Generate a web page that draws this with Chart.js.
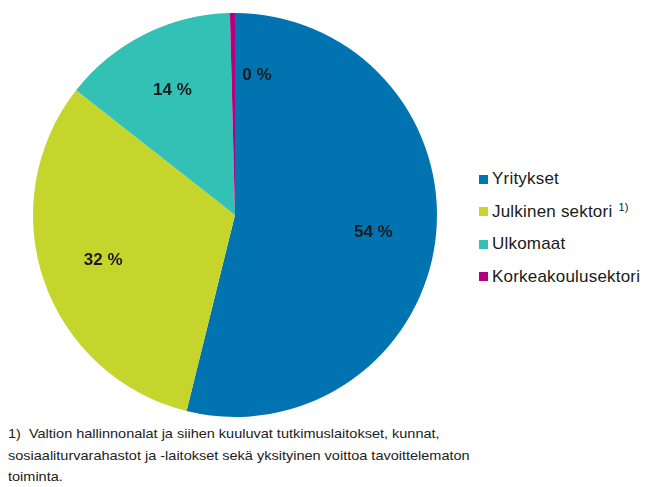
<!DOCTYPE html>
<html lang="fi">
<head>
<meta charset="utf-8">
<script src="https://cdn.jsdelivr.net/npm/chart.js@4.4.1/dist/chart.umd.min.js"></script>
<style>
    body { margin: 0; background: #fff; font-family: "Liberation Sans", Arial, sans-serif; }
    #wrap { position: relative; width: 659px; height: 487px; }
    #chartBox { position: absolute; left: 0; top: 0; width: 470px; height: 420px; }
    #legend { position: absolute; left: 479px; top: 167px; font-size: 17px; color: #1a1a1a; letter-spacing: 0.2px; }
    #legend .item { height: 32.5px; display: flex; align-items: center; position: relative; top: -4px; }
    #legend .box { width: 9px; height: 9px; margin-right: 4px; }
    #legend sup { font-size: 11px; margin-left: 6px; position: relative; top: -5px; }
    #note { position: absolute; left: 8px; top: 423px; font-size: 13px; line-height: 21.5px; color: #222;
            transform: scaleX(1.115); transform-origin: left top; white-space: nowrap; }
</style>
</head>
<body>
<div id="wrap">
    <div id="chartBox"><canvas id="piirakka"></canvas></div>
    <div id="legend"></div>
    <div id="note">1)&nbsp; Valtion hallinnonalat ja siihen kuuluvat tutkimuslaitokset, kunnat,<br>sosiaaliturvarahastot ja -laitokset sekä yksityinen voittoa tavoittelematon<br>toiminta.</div>
</div>
<script>
// Rahoituslähteet (%), luettu kuvasta
const sektorit = ['Yritykset', 'Julkinen sektori', 'Ulkomaat', 'Korkeakoulusektori'];
const osuudet = [53.8, 31.7, 14.0, 0.4];
const varit = ['#0073b0', '#c5d52c', '#33c1b6', '#b5007e'];
const alaviitteet = ['', '1)', '', ''];

// Prosenttitekstit sektoreiden päälle
const prosenttiLabelit = {
    id: 'prosenttiLabelit',
    afterDatasetsDraw(chart) {
        const ctx = chart.ctx;
        const meta = chart.getDatasetMeta(0);
        ctx.save();
        ctx.font = 'bold 17px "Liberation Sans", Arial, sans-serif';
        ctx.fillStyle = '#1a1a1a';
        ctx.textBaseline = 'middle';
        meta.data.forEach((arc, i) => {
            const p = arc.getProps(['x', 'y', 'startAngle', 'endAngle', 'outerRadius'], true);
            const mid = (p.startAngle + p.endAngle) / 2;
            const r = p.outerRadius * 0.69;
            let x = p.x + Math.cos(mid) * r;
            const y = p.y + Math.sin(mid) * r;
            const teksti = Math.round(osuudet[i]) + ' %';
            if (osuudet[i] < 2) {
                // pieni sektori: teksti sen oikealle puolelle
                ctx.textAlign = 'left';
                x += 9;
            } else {
                ctx.textAlign = 'center';
            }
            ctx.fillText(teksti, x, y);
        });
        ctx.restore();
    }
};

const chart = new Chart(document.getElementById('piirakka'), {
    type: 'pie',
    data: {
        labels: sektorit,
        datasets: [{
            data: osuudet,
            backgroundColor: varit,
            borderWidth: 0
        }]
    },
    options: {
        responsive: true,
        maintainAspectRatio: false,
        animation: false,
        layout: { padding: { top: 13, bottom: 3 } },
        plugins: {
            legend: { display: false },
            tooltip: { enabled: false }
        }
    },
    plugins: [prosenttiLabelit]
});

// Selite HTML:nä kaavion tiedoista
const legend = document.getElementById('legend');
chart.data.labels.forEach((nimi, i) => {
    const rivi = document.createElement('div');
    rivi.className = 'item';
    rivi.innerHTML = '<span class="box" style="background:' + chart.data.datasets[0].backgroundColor[i] + '"></span>' +
        nimi + (alaviitteet[i] ? '<sup>' + alaviitteet[i] + '</sup>' : '');
    legend.appendChild(rivi);
});
</script>
</body>
</html>
